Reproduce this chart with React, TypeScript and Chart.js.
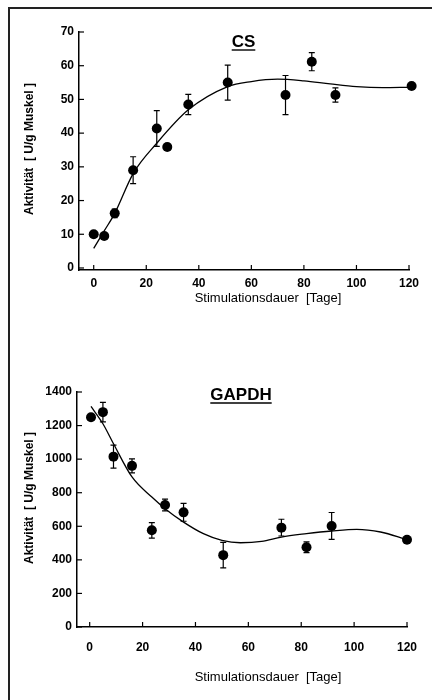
import React, { useEffect, useRef } from 'react';
import { Chart, registerables } from 'chart.js';

Chart.register(...registerables);

// ---------- data ----------
const xTickValues = [0, 20, 40, 60, 80, 100, 120];

// CS panel
const csYTicks = [0, 10, 20, 30, 40, 50, 60, 70];
const csDays = [0, 4, 8, 15, 24, 28, 36, 51, 73, 83, 92, 121];
const csMean = [10, 9.5, 16.2, 29, 41.4, 35.9, 48.5, 55, 51.3, 61.2, 51.3, 54];
const csErr = [0, 0, 1.3, 4, 5.3, 0, 3, 5.2, 5.8, 2.7, 2.1, 0];
const csFitDays = [0, 4, 8, 15, 24, 36, 51, 60, 70, 80, 90, 100, 110, 120];
const csFitVals = [5.8, 11, 16.2, 28, 37, 46.9, 53.8, 55.3, 56, 55.5, 54.6, 53.8, 53.5, 53.6];

// GAPDH panel
const gYTicks = [0, 200, 400, 600, 800, 1000, 1200, 1400];
const gDays = [0.5, 5, 9, 16, 23.5, 28.5, 35.5, 50.5, 72.5, 82, 91.5, 120];
const gMean = [1250, 1280, 1015, 960, 576, 727, 683, 428, 592, 475, 602, 520];
const gErr = [0, 58, 68, 42, 46, 35, 53, 76, 50, 32, 80, 0];
const gFitDays = [0.5, 5, 9, 16, 23.5, 28.5, 35.5, 43, 50, 57, 65, 72.5, 82, 91.5, 101, 110, 120];
const gFitVals = [1314, 1211, 1092, 894, 774, 705, 625, 556, 516, 502, 510, 536, 556, 572, 582, 566, 520];

const FONT = "'Liberation Sans', Arial, sans-serif";

const decorPlugin = {
  id: 'decor',
  afterDatasetsDraw(chart: any, _args: any, opts: any) {
    const ctx = chart.ctx;
    const xs = chart.scales.x;
    const ys = chart.scales.y;
    const pts = chart.data.datasets[1].data as { x: number; y: number }[];
    ctx.save();
    ctx.strokeStyle = '#000';
    ctx.lineWidth = 1.2;
    (opts.errors as number[]).forEach((e, i) => {
      if (!e) return;
      const p = pts[i];
      const x = xs.getPixelForValue(p.x);
      const y1 = ys.getPixelForValue(p.y + e);
      const y2 = ys.getPixelForValue(p.y - e);
      ctx.beginPath();
      ctx.moveTo(x, y1);
      ctx.lineTo(x, y2);
      ctx.moveTo(x - 3, y1);
      ctx.lineTo(x + 3, y1);
      ctx.moveTo(x - 3, y2);
      ctx.lineTo(x + 3, y2);
      ctx.stroke();
    });
    ctx.restore();
  },
  afterDraw(chart: any, _args: any, opts: any) {
    const ctx = chart.ctx;
    const xs = chart.scales.x;
    const ys = chart.scales.y;
    const area = chart.chartArea;
    ctx.save();
    ctx.strokeStyle = '#000';
    ctx.lineWidth = 1.2;
    // inward ticks
    xs.ticks.forEach((t: any) => {
      const x = xs.getPixelForValue(t.value);
      ctx.beginPath();
      ctx.moveTo(x, area.bottom);
      ctx.lineTo(x, area.bottom - 5);
      ctx.stroke();
    });
    ys.ticks.forEach((t: any) => {
      const y = ys.getPixelForValue(t.value);
      ctx.beginPath();
      ctx.moveTo(area.left, y);
      ctx.lineTo(area.left + 5, y);
      ctx.stroke();
    });
    // panel title, underlined
    ctx.fillStyle = '#000';
    ctx.font = `bold 17px ${FONT}`;
    ctx.textAlign = 'center';
    ctx.textBaseline = 'middle';
    const tw = ctx.measureText(opts.title).width;
    ctx.fillText(opts.title, opts.titleX, opts.titleY);
    ctx.lineWidth = 1.4;
    ctx.beginPath();
    ctx.moveTo(opts.titleX - tw / 2, opts.titleY + 8);
    ctx.lineTo(opts.titleX + tw / 2, opts.titleY + 8);
    ctx.stroke();
    // x title
    ctx.font = `13px ${FONT}`;
    ctx.fillText(opts.xTitle, opts.xTitleX, opts.xTitleY);
    // y title
    ctx.translate(opts.yTitleX, opts.yTitleY);
    ctx.rotate(-Math.PI / 2);
    ctx.font = `bold 12px ${FONT}`;
    ctx.fillText(opts.yTitle, 0, 0);
    ctx.restore();
  },
};

type PanelProps = {
  top: number;
  height: number;
  area: { left: number; right: number; top: number; bottom: number };
  xMin: number;
  yMin: number;
  yMax: number;
  yTicks: number[];
  days: number[];
  mean: number[];
  err: number[];
  fitDays: number[];
  fitVals: number[];
  title: string;
  titlePos: [number, number];
  yTitlePos: [number, number];
  xTitlePos: [number, number];
  xLabelPad: number;
};

function Panel(p: PanelProps) {
  const ref = useRef<HTMLCanvasElement>(null);
  useEffect(() => {
    if (!ref.current) return;
    const W = 432;
    const chart = new Chart(ref.current, {
      type: 'scatter',
      data: {
        datasets: [
          {
            type: 'line',
            data: p.fitDays.map((d, i) => ({ x: d, y: p.fitVals[i] })),
            borderColor: '#000',
            borderWidth: 1.3,
            pointRadius: 0,
            cubicInterpolationMode: 'monotone',
            fill: false,
            clip: false,
          } as any,
          {
            data: p.days.map((d, i) => ({ x: d, y: p.mean[i] })),
            backgroundColor: '#000',
            borderColor: '#000',
            pointRadius: 5,
            pointBorderWidth: 0,
            clip: false,
          } as any,
        ],
      },
      options: {
        animation: false,
        responsive: false,
        devicePixelRatio: 1,
        layout: {
          padding: { left: 0, top: p.area.top, right: W - p.area.right, bottom: 0 },
        },
        plugins: {
          legend: { display: false },
          tooltip: { enabled: false },
          decor: {
            errors: p.err,
            title: p.title,
            titleX: p.titlePos[0],
            titleY: p.titlePos[1],
            yTitle: 'Aktivität  [ U/g Muskel ]',
            yTitleX: p.yTitlePos[0],
            yTitleY: p.yTitlePos[1],
            xTitle: 'Stimulationsdauer  [Tage]',
            xTitleX: p.xTitlePos[0],
            xTitleY: p.xTitlePos[1],
          },
        } as any,
        scales: {
          x: {
            type: 'linear',
            min: p.xMin,
            max: 120,
            afterBuildTicks: (s: any) => {
              s.ticks = xTickValues.map((v) => ({ value: v }));
            },
            afterFit: (s: any) => {
              s.height = p.height - p.area.bottom;
            },
            grid: { display: true, drawOnChartArea: false, drawTicks: false },
            border: { display: true, color: '#000', width: 1.5 },
            ticks: {
              color: '#000',
              padding: p.xLabelPad,
              maxRotation: 0,
              callback: (v: any) => String(v),
              font: { family: FONT, size: 12, weight: 'bold' },
            },
          },
          y: {
            type: 'linear',
            min: p.yMin,
            max: p.yMax,
            afterBuildTicks: (s: any) => {
              s.ticks = p.yTicks.map((v) => ({ value: v }));
            },
            afterFit: (s: any) => {
              s.width = p.area.left;
            },
            grid: { display: true, drawOnChartArea: false, drawTicks: false },
            border: { display: true, color: '#000', width: 1.5 },
            ticks: {
              color: '#000',
              padding: 5,
              callback: (v: any) => String(v),
              font: { family: FONT, size: 12, weight: 'bold' },
            },
          },
        },
      } as any,
      plugins: [decorPlugin as any],
    });
    return () => chart.destroy();
  }, []);
  return (
    <canvas
      ref={ref}
      width={432}
      height={p.height}
      style={{ position: 'absolute', left: 0, top: p.top, width: 432, height: p.height }}
    />
  );
}

export default function App() {
  return (
    <div
      style={{
        position: 'absolute',
        left: 0,
        top: 0,
        width: 432,
        height: 700,
        background: '#fff',
        overflow: 'hidden',
      }}
    >
      <div style={{ position: 'absolute', left: 8, top: 7, width: 1.5, height: 693, background: '#222' }} />
      <div style={{ position: 'absolute', left: 8, top: 7, width: 424, height: 1.5, background: '#222' }} />
      <Panel
        top={0}
        height={320}
        area={{ left: 79, right: 409, top: 32, bottom: 270 }}
        xMin={-5.6}
        yMin={-0.6}
        yMax={70}
        yTicks={csYTicks}
        days={csDays}
        mean={csMean}
        err={csErr}
        fitDays={csFitDays}
        fitVals={csFitVals}
        title="CS"
        titlePos={[243.5, 42]}
        yTitlePos={[30, 149]}
        xTitlePos={[268, 298]}
        xLabelPad={6}
      />
      <Panel
        top={340}
        height={360}
        area={{ left: 77, right: 407, top: 52, bottom: 287 }}
        xMin={-4.8}
        yMin={0}
        yMax={1400}
        yTicks={gYTicks}
        days={gDays}
        mean={gMean}
        err={gErr}
        fitDays={gFitDays}
        fitVals={gFitVals}
        title="GAPDH"
        titlePos={[241, 55]}
        yTitlePos={[30, 158]}
        xTitlePos={[268, 337]}
        xLabelPad={13}
      />
    </div>
  );
}
